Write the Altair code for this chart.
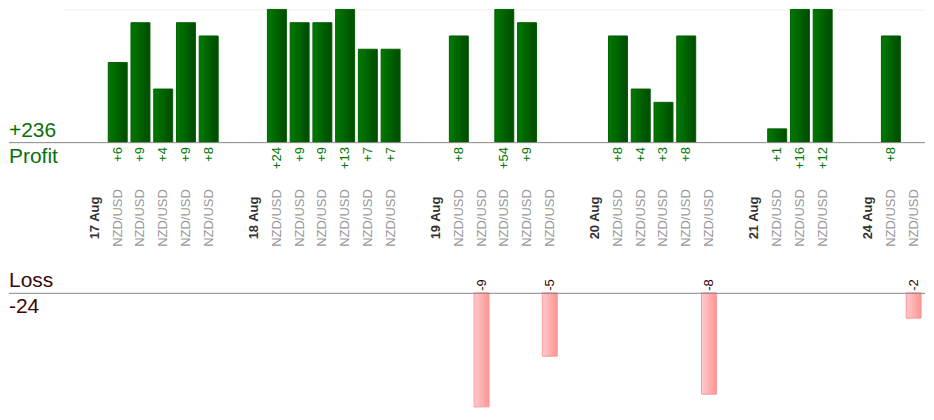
import altair as alt
import pandas as pd

# ---- data ----
days = ["17 Aug", "18 Aug", "19 Aug", "20 Aug", "21 Aug", "24 Aug"]
day_results = [
    [6, 9, 4, 9, 8],
    [24, 9, 9, 13, 7, 7],
    [8, -9, 54, 9, -5],
    [8, 4, 3, 8, -8],
    [1, 16, 12],
    [8, -2],
]
symbol = "NZD/USD"

rows = []
slot = 0
for day, results in zip(days, day_results):
    rows.append({"slot": slot, "kind": "spacer", "label": "", "value": 0})
    slot += 1
    rows.append({"slot": slot, "kind": "date", "label": day, "value": 0})
    slot += 1
    for r in results:
        rows.append({"slot": slot, "kind": "trade", "label": symbol, "value": r})
        slot += 1
df = pd.DataFrame(rows)
df["profit"] = df["value"].clip(lower=0)
df["loss"] = (-df["value"]).clip(lower=0)
df["ptext"] = df["profit"].map(lambda v: f"+{v}")
df["ltext"] = df["loss"].map(lambda v: f"-{v}")
n_slots = slot

total_profit = int(df["profit"].sum())
total_loss = int(df["loss"].sum())

W = 918
H = 400
FONT = "Liberation Sans"

xscale = alt.Scale(domain=list(range(n_slots)), range=[52, W], paddingInner=0, paddingOuter=0)
X = alt.X("slot:O", scale=xscale, axis=None)

pscale = alt.Scale(domain=[0, 10], range=[133, 0], clamp=True)
lscale = alt.Scale(domain=[0, 10], range=[284, 411], clamp=True)

green_grad = alt.LinearGradient(
    gradient="linear",
    stops=[alt.GradientStop(color="#007a00", offset=0), alt.GradientStop(color="#004a00", offset=1)],
    x1=0, x2=1, y1=0, y2=0,
)
pink_grad = alt.LinearGradient(
    gradient="linear",
    stops=[alt.GradientStop(color="#ffcccc", offset=0), alt.GradientStop(color="#ff9494", offset=1)],
    x1=0, x2=1, y1=0, y2=0,
)

base = alt.Chart(df)
one = alt.Chart(pd.DataFrame({"a": [0]}))

top_line = one.mark_rule(color="#eeeeee", strokeWidth=1).encode(
    x=alt.value(55), x2=alt.value(W), y=alt.value(0.5)
)

profit_bars = base.transform_filter("datum.profit > 0").mark_bar(
    size=19, fill=green_grad, stroke="#006000", strokeWidth=1
).encode(x=X, y=alt.Y("profit:Q", scale=pscale, axis=None, stack=None))

loss_bars = base.transform_filter("datum.loss > 0").mark_bar(
    size=15, fill=pink_grad, stroke="#ff9999", strokeWidth=1
).encode(x=X, y=alt.Y("loss:Q", scale=lscale, axis=None, stack=None))

profit_line = one.mark_rule(color="#888888", strokeWidth=1).encode(
    x=alt.value(0), x2=alt.value(W), y=alt.value(133.5)
)
loss_line = one.mark_rule(color="#888888", strokeWidth=1).encode(
    x=alt.value(0), x2=alt.value(W), y=alt.value(284.5)
)

profit_labels = base.transform_filter("datum.profit > 0").mark_text(
    angle=270, align="right", baseline="middle", font=FONT, fontSize=13, color="#007700"
).encode(x=X, y=alt.value(138), text="ptext:N")

loss_labels = base.transform_filter("datum.loss > 0").mark_text(
    angle=270, align="left", baseline="middle", font=FONT, fontSize=13, color="#330000"
).encode(x=X, y=alt.value(282), text="ltext:N")

sym_labels = base.transform_filter("datum.kind == 'trade'").mark_text(
    angle=270, align="center", baseline="middle", font=FONT, fontSize=13, color="#999999"
).encode(x=X, y=alt.value(209), text="label:N")

date_labels = base.transform_filter("datum.kind == 'date'").mark_text(
    angle=270, align="center", baseline="middle", font=FONT, fontSize=13,
    fontWeight="bold", color="#333333"
).encode(x=X, y=alt.value(209), text="label:N")

left_df = pd.DataFrame({
    "t": [f"+{total_profit}", "Profit", "Loss", f"-{total_loss}"],
    "grp": ["p", "p", "l", "l"],
    "ypix": [128, 154, 278, 304],
})
left_p = alt.Chart(left_df).transform_filter("datum.grp == 'p'").mark_text(
    align="left", baseline="alphabetic", font=FONT, fontSize=21, color="#0a700a"
).encode(x=alt.value(0), y=alt.Y("ypix:Q", scale=None), text="t:N")
left_l = alt.Chart(left_df).transform_filter("datum.grp == 'l'").mark_text(
    align="left", baseline="alphabetic", font=FONT, fontSize=21, color="#3a0808"
).encode(x=alt.value(0), y=alt.Y("ypix:Q", scale=None), text="t:N")

chart = alt.layer(
    top_line, profit_bars, loss_bars, profit_line, loss_line,
    profit_labels, loss_labels, sym_labels, date_labels, left_p, left_l,
).resolve_scale(y="independent").properties(
    width=W, height=H, padding=0
).configure_view(stroke=None)

chart.save("out.html", embed_options={"renderer": "svg", "actions": False})
